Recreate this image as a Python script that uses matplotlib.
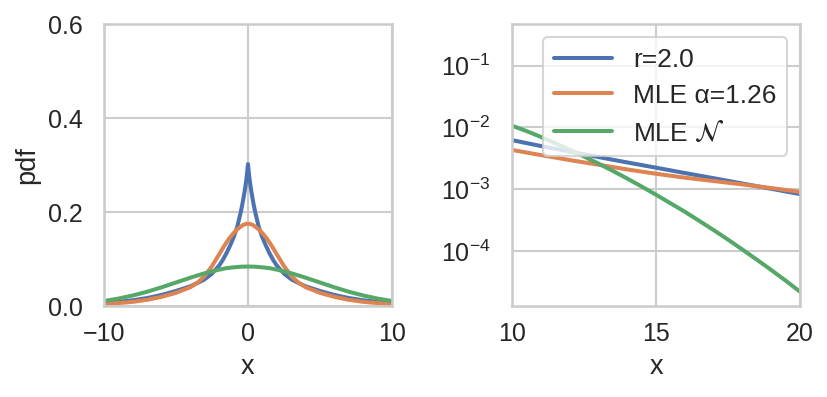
import numpy as np
import matplotlib
matplotlib.use("Agg")
import matplotlib.pyplot as plt
import seaborn as sns

# x positions (x >= 0), curves are symmetric about 0
x_half = [0, 0.05, 0.1, 0.2, 0.3, 0.4, 0.5, 0.75, 1.0, 1.25, 1.5, 1.75, 2.0, 2.5,
          3.0, 3.5, 4.0, 5.0, 6.0, 7.0, 8.0, 9.0, 10, 11, 12, 13, 14, 15, 16, 17,
          18, 19, 20]

# r=2.0 (blue)
pdf_r = [0.302, 0.287, 0.272, 0.250, 0.232, 0.215, 0.200, 0.168, 0.146, 0.128,
         0.112, 0.098, 0.086, 0.069, 0.057, 0.049, 0.042, 0.032, 0.0235, 0.017,
         0.0122, 0.0088, 0.0062, 0.00498, 0.00405, 0.0033, 0.0027, 0.00222,
         0.00182, 0.0015, 0.00123, 0.00101, 0.00083]

# MLE alpha=1.26 (orange)
pdf_alpha = [0.175, 0.175, 0.175, 0.174, 0.173, 0.171, 0.169, 0.163, 0.155, 0.146,
             0.135, 0.123, 0.110, 0.085, 0.064, 0.050, 0.040, 0.028, 0.0195, 0.0132,
             0.0089, 0.0062, 0.0043, 0.00355, 0.00295, 0.00248, 0.00208, 0.00177,
             0.00153, 0.00135, 0.00119, 0.00104, 0.0009]

# MLE normal (green), read a bit denser in the tail
x_norm = [0, 0.5, 1.0, 1.5, 2.0, 2.5, 3.0, 3.5, 4.0, 5.0, 6.0, 7.0, 8.0, 9.0, 10,
          10.5, 11, 11.5, 12, 12.5, 13, 13.5, 14, 14.5, 15, 15.5, 16, 16.5, 17,
          17.5, 18, 18.5, 19, 19.5, 20]
pdf_norm = [0.0840, 0.0836, 0.0823, 0.0805, 0.0774, 0.0736, 0.0697, 0.0651, 0.0603,
            0.0500, 0.0398, 0.0304, 0.0224, 0.0158, 0.0106, 0.0087, 0.0070, 0.0055,
            0.00434, 0.00337, 0.00259, 0.00197, 0.00148, 0.0011, 0.00081, 0.00059,
            0.00043, 0.000306, 0.000217, 0.000152, 0.000105, 0.000072, 0.000049,
            0.000033, 0.0000218]

labels = ["r=2.0", "MLE α=1.26", r"MLE $\mathcal{N}$"]

sns.set_theme(style="whitegrid", context="talk")
plt.rcParams['font.family'] = ['Liberation Sans', 'DejaVu Sans']
plt.rcParams['xtick.labelsize'] = 18
plt.rcParams['ytick.labelsize'] = 18
plt.rcParams['axes.labelsize'] = 19.5
plt.rcParams['legend.fontsize'] = 19
plt.rcParams['xtick.major.pad'] = 2.5
plt.rcParams['ytick.major.pad'] = 6.5
plt.rcParams['axes.labelpad'] = 5.5


def mirror(xs, ys):
    # pdfs are symmetric, fill in x < 0
    xs = np.array(xs)
    ys = np.array(ys)
    return np.concatenate([-xs[:0:-1], xs]), np.concatenate([ys[:0:-1], ys])


curves = [mirror(x_half, pdf_r), mirror(x_half, pdf_alpha), mirror(x_norm, pdf_norm)]

fig, (ax1, ax2) = plt.subplots(1, 2, figsize=(8.28, 3.97), dpi=100)
fig.subplots_adjust(left=0.1256, right=0.9662, bottom=0.2292, top=0.9395, wspace=0.417)

for (x, y), lab in zip(curves, labels):
    ax1.plot(x, y, lw=2.9, label=lab)
    ax2.plot(x, y, lw=2.9, label=lab)

ax1.set_xlim(-10, 10)
ax1.set_ylim(0, 0.6)
ax1.set_xticks([-10, 0, 10])
ax1.set_yticks([0.0, 0.2, 0.4, 0.6])
ax1.set_xlabel("x")
ax1.set_ylabel("pdf")

ax2.set_yscale("log")
ax2.set_xlim(10, 20)
ax2.set_ylim(1.28e-5, 0.47)
ax2.set_xticks([10, 15, 20])
ax2.set_yticks([1e-4, 1e-3, 1e-2, 1e-1])
ax2.minorticks_off()
ax2.set_xlabel("x")
ax2.legend(loc="upper right", handlelength=2.2, handletextpad=0.8,
           labelspacing=0.45, borderaxespad=0.5)

fig.savefig("out.png", dpi=100)
